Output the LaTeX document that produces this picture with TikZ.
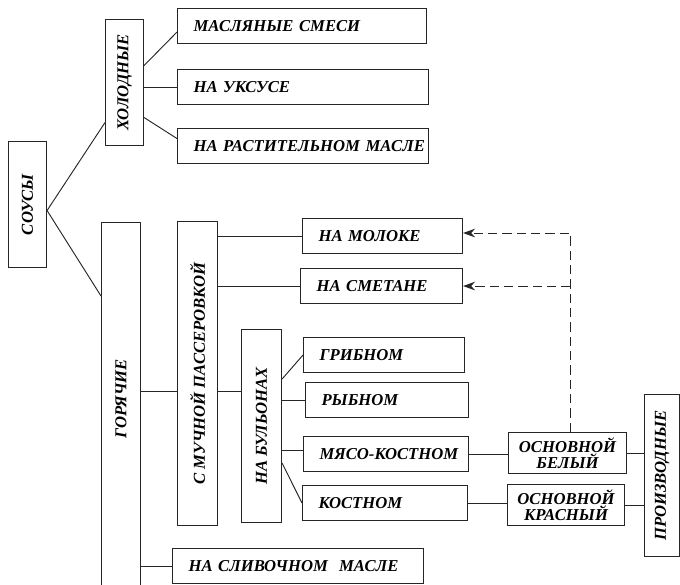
\documentclass[tikz,border=0pt]{standalone}
\usepackage{fontspec}
\setmainfont{Liberation Serif}
\usetikzlibrary{calc,arrows.meta}
\begin{document}
\begin{tikzpicture}[x=0.75pt,y=-0.75pt,
  lab/.style={font=\fontsize{12.5}{12}\selectfont\bfseries\itshape},
  conn/.style={line width=0.7pt, draw=black!85},
  hbox/.style={draw=black!85, line width=0.8pt, lab, anchor=north west,
    minimum height=26.25pt, inner ysep=0pt, inner xsep=12pt, align=left, text width=#1},
  vbox/.style={draw=black!85, line width=0.8pt, lab, anchor=north west, inner sep=0pt},
  derived/.style={conn, dash pattern=on 7pt off 3.75pt, -{Stealth[length=9pt,width=6.5pt]}}
]
\clip (0,0) rectangle (680,584);

% main vertical boxes
\node[vbox, minimum width=28.5pt, minimum height=94.5pt] (sauce) at (8,141) {\rotatebox{90}{СОУСЫ}};
\node[vbox, minimum width=28.5pt, minimum height=94.5pt] (cold) at (105,19) {\rotatebox{90}{ХОЛОДНЫЕ}};
\node[vbox, minimum width=29.25pt, minimum height=283.5pt] (hot) at (101,222) {};
\node[lab, inner sep=0pt] (hotlabel) at (121,399) {\rotatebox{90}{ГОРЯЧИЕ}};
\node[vbox, minimum width=30pt, minimum height=228pt] (flour) at (177,221) {\rotatebox{90}{С МУЧНОЙ ПАССЕРОВКОЙ}};
\node[vbox, minimum width=30pt, minimum height=144.75pt] (broth) at (241,329) {\rotatebox{90}{НА БУЛЬОНАХ}};
\node[vbox, minimum width=26.25pt, minimum height=121.5pt] (deriv) at (644,394) {\rotatebox{90}{ПРОИЗВОДНЫЕ}};

% cold sauces
\node[hbox=162.75pt] (butter) at (177,8) {\mbox{МАСЛЯНЫЕ СМЕСИ}};
\node[hbox=164.25pt] (vinegar) at (177,69) {\mbox{НА УКСУСЕ}};
\node[hbox=164.25pt] (oil) at (177,128) {\mbox{НА РАСТИТЕЛЬНОМ МАСЛЕ}};

% hot sauces
\node[hbox=96pt] (milk) at (302,218) {\mbox{НА МОЛОКЕ}};
\node[hbox=97.5pt] (sour) at (300,268) {\mbox{НА СМЕТАНЕ}};
\node[hbox=96.75pt] (mush) at (303,337) {\mbox{ГРИБНОМ}};
\node[hbox=98.25pt] (fish) at (305,382) {\mbox{РЫБНОМ}};
\node[hbox=99.75pt] (meat) at (303,436) {\mbox{МЯСО-КОСТНОМ}};
\node[hbox=99.75pt] (bone) at (302,485) {\mbox{КОСТНОМ}};
\node[hbox=164.25pt] (cream) at (172,548) {\mbox{НА СЛИВОЧНОМ \ МАСЛЕ}};

% basic sauces
\node[vbox, minimum width=88.5pt, minimum height=30.75pt, align=center] (white) at (508,432) {ОСНОВНОЙ\\БЕЛЫЙ};
\node[vbox, minimum width=87.75pt, minimum height=30.75pt, align=center] (red) at (507,484) {ОСНОВНОЙ\\КРАСНЫЙ};

% connectors: sauces -> cold / hot
\draw[conn] ($(sauce.east)+(0,6)$) -- ($(cold.west)+(0,40)$);
\draw[conn] ($(sauce.east)+(0,6)$) -- ($(hot.north west)+(0,74)$);

% cold -> kinds
\draw[conn] ($(cold.east)+(0,-17)$) -- ($(butter.west)+(0,6)$);
\draw[conn] (cold.east |- vinegar.west) -- (vinegar.west);
\draw[conn] ($(cold.east)+(0,35)$) -- ($(oil.west)+(0,-7.5)$);

% hot -> kinds
\coordinate (fl) at ($(flour.west)+(0,18)$);
\draw[conn] (hot.east |- fl) -- (fl);
\draw[conn] (flour.east |- fl) -- (broth.west |- fl);
\draw[conn] (flour.east |- milk.west) -- (milk.west);
\draw[conn] (flour.east |- sour.west) -- (sour.west);
\draw[conn] (hot.east |- cream.west) -- (cream.west);

% broths
\coordinate (bm) at ($(broth.east)+(0,24)$);
\draw[conn] ($(broth.east)+(0,-47)$) -- (mush.west);
\draw[conn] (broth.east |- fish.west) -- (fish.west);
\draw[conn] (bm) -- (meat.west |- bm);
\draw[conn] ($(broth.east)+(0,37)$) -- (bone.west);

% basic and derived sauces
\draw[conn] (meat.east) -- (white.west |- meat.east);
\draw[conn] (bone.east) -- (red.west |- bone.east);
\draw[conn] (white.east) -- (deriv.west |- white.east);
\draw[conn] (red.east) -- (deriv.west |- red.east);

\coordinate (dv) at ($(white.north)+(3,0)$);
\draw[derived] (dv) |- ($(milk.east)+(0,-3)$);
\draw[derived] (dv |- sour.east) -- (sour.east);
\end{tikzpicture}
\end{document}
